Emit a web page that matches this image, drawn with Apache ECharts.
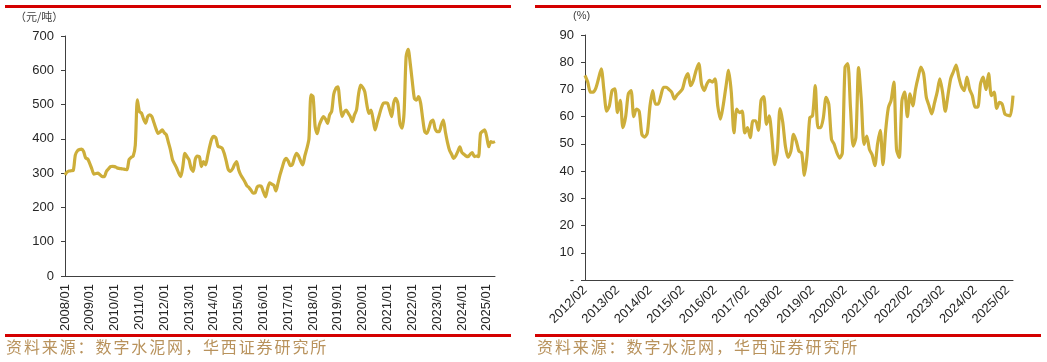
<!DOCTYPE html>
<html><head><meta charset="utf-8">
<script src="https://cdn.jsdelivr.net/npm/echarts@6/dist/echarts.min.js"></script>
<style>html,body{margin:0;padding:0;background:#fff}#c{width:1047px;height:362px}</style>
</head><body><div id="c"></div>
<script>
// Left chart: cement price (元/吨), monthly from 2008/01
const priceStart = [2008, 1];
const priceValues = [
295,303,306,307,308,353,365,369,370,363,344,341,
328,312,297,299,300,295,290,290,305,312,319,320,
319,316,314,313,312,311,310,340,346,350,382,514,
480,475,458,446,465,470,465,448,430,416,420,426,
418,412,390,368,339,327,315,300,290,319,358,348,
339,314,305,340,350,348,319,334,324,350,378,400,
407,402,378,376,373,358,335,310,305,312,325,334,
310,295,285,275,263,258,250,242,243,260,263,261,
245,231,255,272,268,265,248,270,295,315,335,343,
335,322,325,345,358,350,335,324,350,372,400,528,
523,436,415,440,455,465,458,445,470,480,530,547,
552,504,465,478,484,475,465,450,470,484,530,557,
550,538,500,474,484,458,426,448,469,490,504,505,
504,485,465,505,518,504,445,431,474,640,661,620,
567,518,513,523,505,460,421,416,430,450,455,430,
421,421,440,455,420,390,367,355,343,350,363,377,
360,355,350,348,355,360,348,350,348,416,422,426,
406,377,392,390,392
];
// Right chart: ratio (%), monthly from 2012/02
const ratioStart = [2012, 2];
const ratioValues = [
75.2,72.7,69,69,70.5,74,77.6,69.6,62,64,69.6,70.2,
61.5,66,56,60,68.4,69.6,60,62.8,62,53.5,52.5,54,
64,69.6,64.6,64.6,67.7,70.8,70.8,70,69,66.5,68,69,
70.2,73.9,75.8,71.4,73.3,77,79.5,72,69.6,72,73.3,72.7,
73.9,64,59.1,64,70.8,77,69,54.1,62.8,61.5,62,54,
56,52.3,58.5,58.5,55,66,67.4,57.2,60.3,52.3,42.4,47.3,
63,58,49,45,47.3,53.5,51,47.3,46.7,38.5,46,59.7,
60.3,71.4,56,56,59.7,67.1,64.6,51.7,49.8,46.7,44.8,46.7,
78.2,79.5,63.4,49.2,52.3,78,66,49.8,52.9,48,46,42,
50,55,42.4,55,63.4,66,72.7,48,45,65.9,69,60,
68.4,64,70,74.5,78.2,75.8,67.1,64,61,65,69,73.9,
69,62,68,74,76.5,78.9,74.5,71,69.6,74.5,70,67.7,
63.5,63.5,72,74.5,70,75.8,67.7,69,63,65.3,64.6,61,
60.5,60.3,67.7
];
const priceTickMonth = '01';
const ratioTickMonth = '02';
const priceAxis = { min: 0, max: 700, interval: 100 };
const ratioAxis = { min: 0, max: 90, interval: 10 };
const priceUnit = '（元/吨）';
const ratioUnit = '(%)';
const sourceText = '资料来源：数字水泥网，华西证券研究所';

function monthLabels(start, n) {
  const out = [];
  let y = start[0], m = start[1];
  for (let i = 0; i < n; i++) {
    out.push(y + '/' + (m < 10 ? '0' + m : '' + m));
    m++; if (m > 12) { m = 1; y++; }
  }
  return out;
}
const priceCats = monthLabels(priceStart, priceValues.length);
const ratioCats = monthLabels(ratioStart, ratioValues.length);

const FONT = "'Liberation Sans', Arial, sans-serif";
const CJK = "'Noto Sans CJK SC', sans-serif";
const LINE = '#CDAE3A';
const AXIS = '#404040';
const TXT = '#262626';
const RED = '#D40000';
const SRC = '#B8925C';

const chart = echarts.init(document.getElementById('c'), null, { renderer: 'canvas' });
function xAxisCfg(gi, cats, tm, rot, margin) {
  return {
    type: 'category', gridIndex: gi, data: cats, boundaryGap: false,
    axisLine: { lineStyle: { color: AXIS, width: 1 } },
    axisTick: { show: false },
    splitLine: { show: false },
    axisLabel: {
      interval: (i, v) => v.endsWith('/' + tm),
      rotate: rot, margin: margin, color: TXT, fontSize: 13, fontFamily: FONT
    }
  };
}
function yAxisCfg(gi, ax, fmt) {
  return {
    type: 'value', gridIndex: gi, min: ax.min, max: ax.max, interval: ax.interval,
    axisLine: { show: true, lineStyle: { color: AXIS, width: 1 } },
    axisTick: { show: true, length: 4, lineStyle: { color: AXIS } },
    splitLine: { show: false },
    axisLabel: { margin: 11, color: TXT, fontSize: 13, fontFamily: FONT, formatter: fmt }
  };
}
function spacedText(x0, y, text, step, size, color) {
  return Array.from(text).map((ch, i) => ({
    type: 'text', x: x0 + i * step, y: y,
    style: { text: ch, fontSize: size, fill: color, fontFamily: CJK }
  }));
}
chart.setOption({
  animation: false,
  grid: [
    { left: 65, top: 36, width: 430, height: 240 },
    { left: 585, top: 35, width: 428, height: 245 }
  ],
  xAxis: [
    xAxisCfg(0, priceCats, priceTickMonth, 90, 8),
    xAxisCfg(1, ratioCats, ratioTickMonth, 45, 8)
  ],
  yAxis: [
    yAxisCfg(0, priceAxis, v => '' + v),
    yAxisCfg(1, ratioAxis, v => v === 0 ? '-' : '' + v)
  ],
  series: [
    { type: 'line', xAxisIndex: 0, yAxisIndex: 0, data: priceValues, symbol: 'none', smooth: 0.25,
      lineStyle: { color: LINE, width: 3.2 } },
    { type: 'line', xAxisIndex: 1, yAxisIndex: 1, data: ratioValues, symbol: 'none', smooth: 0.25,
      lineStyle: { color: LINE, width: 3.2 } }
  ],
  graphic: [
    { type: 'rect', shape: { x: 5, y: 5, width: 506, height: 3 }, style: { fill: RED } },
    { type: 'rect', shape: { x: 535, y: 5, width: 506, height: 3 }, style: { fill: RED } },
    { type: 'rect', shape: { x: 5, y: 334, width: 506, height: 3 }, style: { fill: RED } },
    { type: 'rect', shape: { x: 535, y: 334, width: 506, height: 3 }, style: { fill: RED } },
    { type: 'text', x: 15, y: 11, style: { text: priceUnit, fontSize: 11, fill: AXIS, fontFamily: CJK } },
    { type: 'text', x: 573, y: 10, style: { text: ratioUnit, fontSize: 11, fill: AXIS, fontFamily: FONT } }
  ].concat(
    spacedText(6, 339, sourceText, 17.9, 16, SRC),
    spacedText(537, 339, sourceText, 17.9, 16, SRC)
  )
});
</script>
</body></html>
